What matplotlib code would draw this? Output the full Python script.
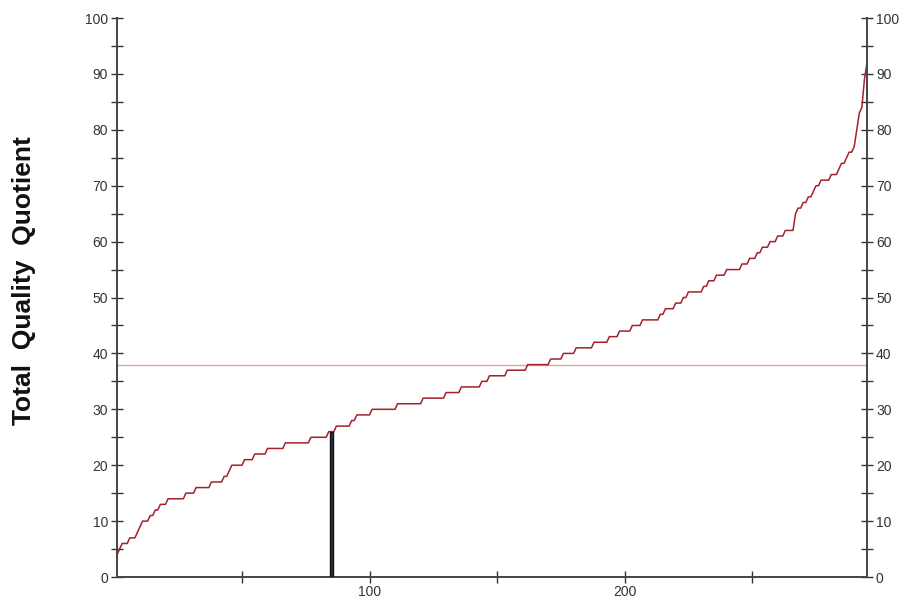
import numpy as np
import matplotlib
matplotlib.use("Agg")
import matplotlib.pyplot as plt
from matplotlib.ticker import MultipleLocator

# Score distribution: each score level and how many cases received it
score_levels = [4, 5, 6, 7, 8, 9, 10, 11, 12, 13, 14, 15, 16, 17, 18, 19, 20,
                21, 22, 23, 24, 25, 26, 27, 28, 29, 30, 31, 32, 33, 34, 35,
                36, 37, 38, 39, 40, 41, 42, 43, 44, 45, 46, 47, 48, 49, 50,
                51, 52, 53, 54, 55, 56, 57, 58, 59, 60, 61, 62, 65, 66, 67,
                68, 69, 70, 71, 72, 73, 74, 75, 76, 77, 80, 83, 84, 89, 92]
score_counts = [1, 1, 3, 3, 1, 1, 3, 2, 2, 3, 7, 4, 6, 5, 2, 1, 5,
                4, 5, 7, 10, 7, 3, 6, 2, 6, 10, 10, 9, 6, 8, 3,
                7, 8, 9, 5, 5, 7, 6, 4, 5, 4, 7, 2, 4, 3, 2,
                6, 2, 3, 4, 6, 3, 3, 2, 3, 3, 3, 4, 1, 2, 2,
                2, 1, 2, 4, 3, 1, 2, 1, 2, 1, 1, 1, 1, 1, 1]

# Highlighted case and reference level
marker_rank = 85
marker_score = 26
reference_level = 38

scores = np.repeat(score_levels, score_counts)
ranks = np.arange(1, len(scores) + 1)

fig = plt.figure(figsize=(9.03, 6.01), dpi=100)
ax = fig.add_axes([0.1296, 0.0399, 0.8305, 0.9301])

ax.axhline(reference_level, color="#d9a898", lw=1.0, zorder=1)
ax.plot(ranks, scores, color="#a3202c", lw=1.1, zorder=2)
ax.bar([marker_rank], [marker_score], width=1.3, color="#2c3440",
       edgecolor="#111111", linewidth=1.0, zorder=3)

ax.set_xlim(1, 295)
ax.set_ylim(0, 100)

ax.spines["top"].set_visible(False)
for s in ("left", "right", "bottom"):
    ax.spines[s].set_color("#444444")
    ax.spines[s].set_linewidth(1.4)

ax.xaxis.set_major_locator(MultipleLocator(100))
ax.xaxis.set_minor_locator(MultipleLocator(50))
ax.yaxis.set_major_locator(MultipleLocator(10))
ax.yaxis.set_minor_locator(MultipleLocator(5))
ax.set_xticks([100, 200])

ax.tick_params(axis="both", which="both", direction="inout", color="#333333",
               width=1.0, labelcolor="#333333", labelsize=10)
ax.tick_params(axis="both", which="major", length=9)
ax.tick_params(axis="both", which="minor", length=9)
ax.tick_params(axis="y", which="both", left=True, right=True,
               labelleft=True, labelright=True, pad=2)
ax.tick_params(axis="x", pad=1)
for lab in ax.get_xticklabels() + ax.get_yticklabels():
    lab.set_family("Liberation Sans")

fig.text(0.027, 0.533, "Total  Quality  Quotient", rotation=90,
         ha="center", va="center", fontsize=19, fontweight="bold",
         family="Liberation Sans", color="#111111")

fig.savefig("out.png", dpi=100)
